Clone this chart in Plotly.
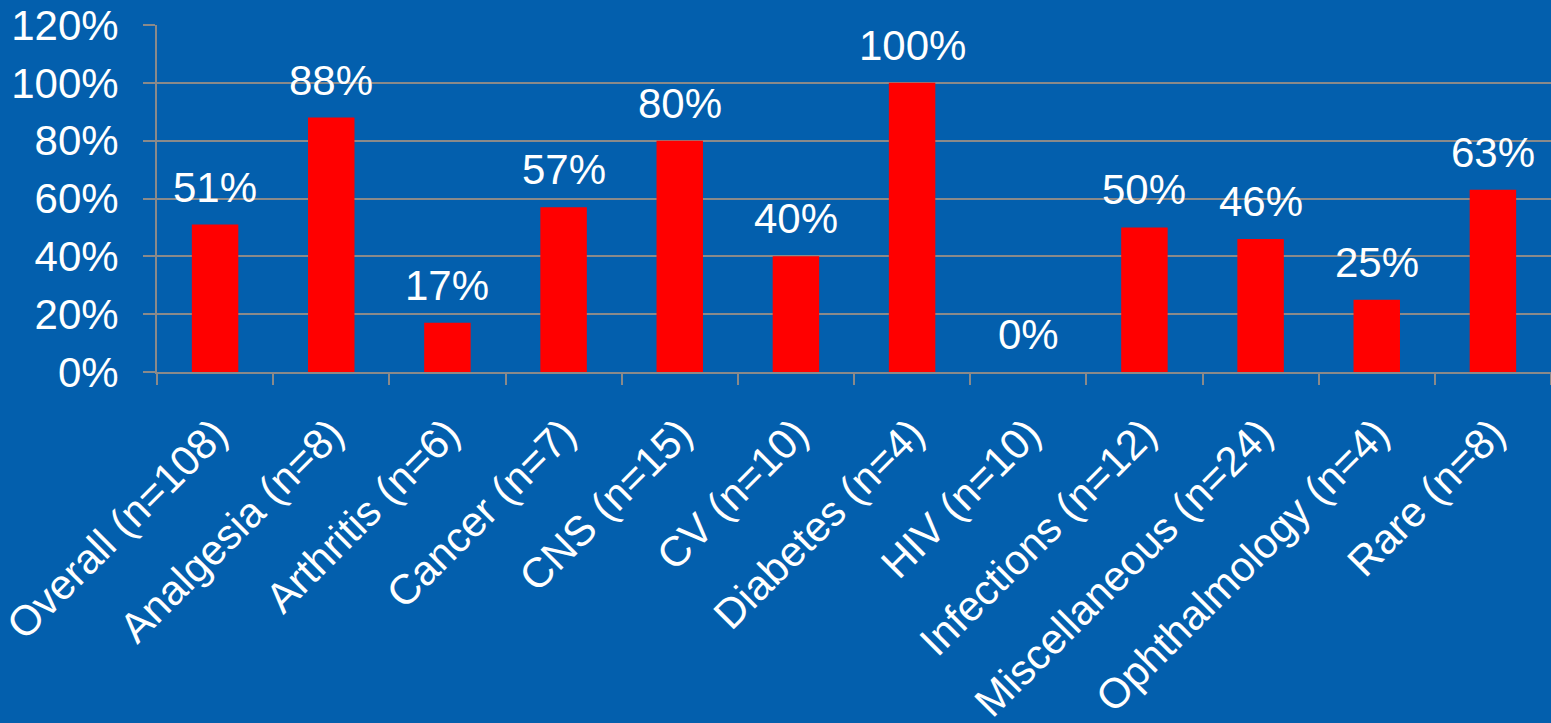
import plotly.graph_objects as go

categories = ["Overall (n=108)", "Analgesia (n=8)", "Arthritis (n=6)", "Cancer (n=7)",
              "CNS (n=15)", "CV (n=10)", "Diabetes (n=4)", "HIV (n=10)",
              "Infections (n=12)", "Miscellaneous (n=24)", "Ophthalmology (n=4)", "Rare (n=8)"]
values = [0.51, 0.88, 0.17, 0.57, 0.80, 0.40, 1.00, 0.00, 0.50, 0.46, 0.25, 0.63]
labels = ["51%", "88%", "17%", "57%", "80%", "40%", "100%", "0%", "50%", "46%", "25%", "63%"]

BG = "#035FAD"
GRID = "#8A8A8A"
FONT = "Liberation Sans, Arial, sans-serif"
FS = 42

fig = go.Figure()
fig.add_trace(go.Bar(x=categories, y=values, marker=dict(color="#FF0000", line=dict(width=0)),
                     hoverinfo="skip"))

for c, v, t in zip(categories, values, labels):
    fig.add_annotation(x=c, y=v, text=t, showarrow=False, yanchor="bottom",
                       yshift=12, font=dict(family=FONT, size=FS, color="white"))

fig.update_layout(
    width=1551, height=723,
    margin=dict(l=157, r=0, t=25, b=351, autoexpand=False),
    paper_bgcolor=BG, plot_bgcolor=BG,
    bargap=0.6, showlegend=False,
    font=dict(family=FONT, color="white"),
)
fig.update_xaxes(
    showline=True, linecolor=GRID, linewidth=2,
    ticks="outside", tickson="boundaries", ticklen=11, tickcolor=GRID, tickwidth=2,
    tickangle=-45, tickfont=dict(family=FONT, size=FS, color="white"),
    ticklabelstandoff=18, showgrid=False, automargin=False,
)
fig.update_yaxes(
    range=[0, 1.2], dtick=0.2, tickformat=".0%",
    showline=True, linecolor=GRID, linewidth=2,
    ticks="outside", ticklen=12, tickcolor=GRID, tickwidth=2,
    showgrid=True, gridcolor=GRID, gridwidth=2, zeroline=False,
    tickfont=dict(family=FONT, size=FS, color="white"),
    ticklabelstandoff=16, automargin=False,
)

fig.write_html("out.html")
